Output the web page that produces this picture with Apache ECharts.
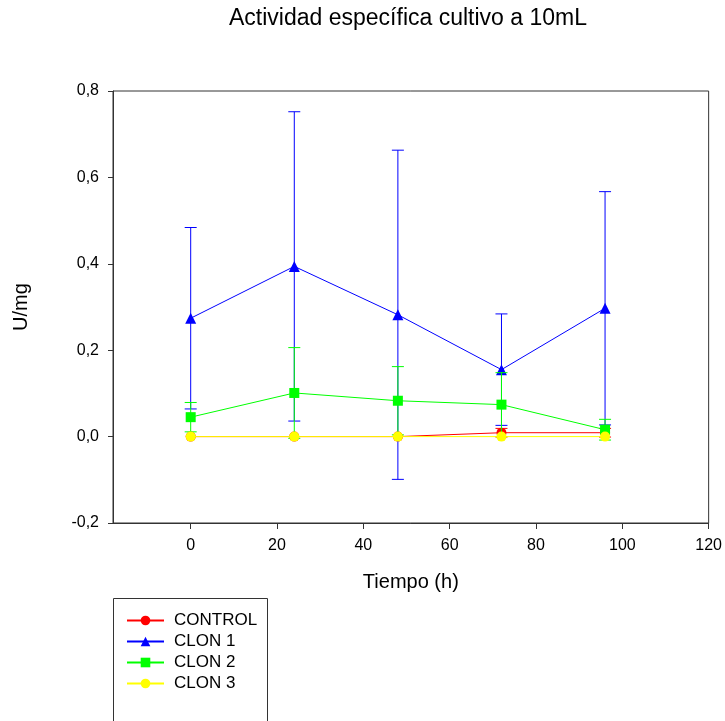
<!DOCTYPE html>
<html>
<head>
<meta charset="utf-8">
<script src="https://cdn.jsdelivr.net/npm/echarts@6/dist/echarts.min.js"></script>
<style>
  html, body { margin: 0; padding: 0; background: #fff; }
  #chart { width: 725px; height: 721px; }
</style>
</head>
<body>
<div id="chart"></div>
<script>
// Sampling times (h)
const times = [0, 24, 48, 72, 96];
const xTicks = [0, 20, 40, 60, 80, 100, 120];

// Specific activity (U/mg) and its standard deviation per culture
const control    = [0, 0, 0, 0.009, 0.009];
const controlErr = [0, 0, 0, 0.01, 0.01];
const clon1      = [0.274, 0.394, 0.282, 0.155, 0.297];
const clon1Err   = [0.21, 0.358, 0.381, 0.129, 0.27];
const clon2      = [0.045, 0.101, 0.083, 0.074, 0.016];
const clon2Err   = [0.034, 0.105, 0.079, 0.074, 0.024];
const clon3      = [0, 0, 0, 0, 0];
const clon3Err   = [0, 0, 0, 0, 0];

const FONT = '"Liberation Sans", Arial, sans-serif';

const seriesDefs = [
  { name: 'CONTROL', vals: control, err: controlErr, color: '#ff0000', symbol: 'circle' },
  { name: 'CLON 1',  vals: clon1,   err: clon1Err,   color: '#0000ff', symbol: 'triangle' },
  { name: 'CLON 2',  vals: clon2,   err: clon2Err,   color: '#00ff00', symbol: 'rect' },
  { name: 'CLON 3',  vals: clon3,   err: clon3Err,   color: '#ffff00', symbol: 'circle' }
];

const series = [];
seriesDefs.forEach((d, i) => {
  // error bars with caps (mean ± SD)
  series.push({
    type: 'custom',
    name: d.name + ' SD',
    z: 2 + i * 2,
    silent: true,
    data: times.map((t, k) => [t, d.vals[k] - d.err[k], d.vals[k] + d.err[k]]),
    renderItem: function (params, api) {
      if (api.value(2) === api.value(1)) return null;
      const lo = api.coord([api.value(0), api.value(1)]);
      const hi = api.coord([api.value(0), api.value(2)]);
      const hw = 6;
      const style = { stroke: d.color, lineWidth: 1 };
      return {
        type: 'group',
        children: [
          { type: 'line', shape: { x1: hi[0], y1: hi[1], x2: lo[0], y2: lo[1] }, style: style },
          { type: 'line', shape: { x1: hi[0] - hw, y1: hi[1], x2: hi[0] + hw, y2: hi[1] }, style: style },
          { type: 'line', shape: { x1: lo[0] - hw, y1: lo[1], x2: lo[0] + hw, y2: lo[1] }, style: style }
        ]
      };
    }
  });
  series.push({
    type: 'line',
    name: d.name,
    z: 3 + i * 2,
    data: times.map((t, k) => [t, d.vals[k]]),
    symbol: d.symbol,
    symbolSize: d.symbol === 'triangle' ? 11 : 10,
    showAllSymbol: true,
    lineStyle: { color: d.color, width: 1 },
    itemStyle: { color: d.color },
    emphasis: { disabled: true },
    animation: false
  });
});

const chart = echarts.init(document.getElementById('chart'));
chart.setOption({
  animation: false,
  textStyle: { fontFamily: FONT },
  grid: {
    left: 113, top: 91, right: 14, bottom: 198,
    show: true, borderColor: '#333', borderWidth: 1, backgroundColor: 'transparent'
  },
  xAxis: {
    type: 'value',
    min: -18, max: 120,
    name: 'Tiempo (h)',
    nameLocation: 'middle',
    nameGap: 49,
    nameTextStyle: { fontSize: 20, color: '#000', fontFamily: FONT },
    axisLine: { show: true, onZero: false, lineStyle: { color: '#333', width: 1 } },
    axisTick: { show: true, inside: false, length: 6, customValues: xTicks, lineStyle: { color: '#333' } },
    axisLabel: { customValues: xTicks, margin: 15, fontSize: 16, color: '#000', fontFamily: FONT },
    splitLine: { show: false }
  },
  yAxis: {
    type: 'value',
    min: -0.2, max: 0.8, interval: 0.2,
    name: 'U/mg',
    nameLocation: 'middle',
    nameGap: 82,
    nameRotate: 90,
    nameTextStyle: { fontSize: 20, color: '#000', fontFamily: FONT },
    axisLine: { show: true, onZero: false, lineStyle: { color: '#333', width: 1 } },
    axisTick: { show: true, inside: false, length: 5, lineStyle: { color: '#333' } },
    axisLabel: {
      margin: 14, fontSize: 16, color: '#000', fontFamily: FONT,
      formatter: v => v.toFixed(1).replace('.', ',')
    },
    splitLine: { show: false }
  },
  legend: {
    orient: 'vertical',
    left: 126, top: 612,
    itemWidth: 37, itemHeight: 12,
    itemGap: 4,
    padding: 0,
    textStyle: { fontSize: 17, color: '#000', fontFamily: FONT, padding: [0, 0, 0, 5] },
    data: seriesDefs.map(d => d.name),
    selectedMode: false
  },
  graphic: [
    {
      type: 'text', x: 408, y: 19,
      style: {
        text: 'Actividad específica cultivo a 10mL',
        font: '23px ' + FONT, fill: '#000',
        textAlign: 'center', textVerticalAlign: 'middle'
      }
    },
    {
      type: 'rect',
      shape: { x: 113.5, y: 598.5, width: 154, height: 140 },
      style: { fill: 'none', stroke: '#333', lineWidth: 1 },
      z: -1
    }
  ],
  series: series
});
</script>
</body>
</html>
